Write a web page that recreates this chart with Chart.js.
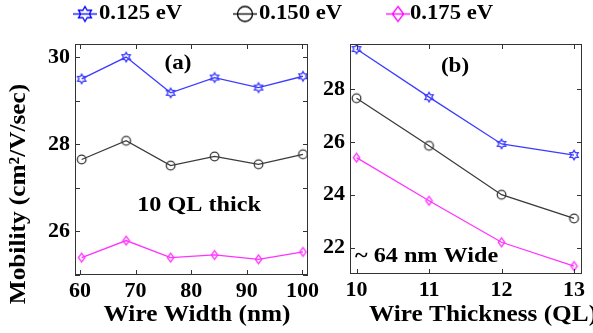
<!DOCTYPE html>
<html><head><meta charset="utf-8">
<script src="https://cdn.jsdelivr.net/npm/chart.js@4"></script>
<style>
html,body{margin:0;padding:0;background:#fff;}
#wrap{position:relative;width:593px;height:333px;overflow:hidden;background:#fff;}
canvas{position:absolute;left:0;top:0;}
</style></head><body>
<div id="wrap"><canvas id="ca" width="593" height="333"></canvas><canvas id="cb" width="593" height="333"></canvas></div>
<script>
// ---- data ----
const seriesLabels = ['0.125 eV', '0.150 eV', '0.175 eV'];
const widthNm = [60.3, 68.3, 76.3, 84.2, 92.1, 100.1];
const mobW125 = [29.50, 30.00, 29.18, 29.53, 29.30, 29.56];
const mobW150 = [27.65, 28.08, 27.51, 27.72, 27.54, 27.77];
const mobW175 = [25.40, 25.79, 25.40, 25.46, 25.36, 25.53];
const thickQL = [10, 11, 12, 13];
const mobT125 = [29.51, 27.69, 25.92, 25.50];
const mobT150 = [27.65, 25.85, 24.00, 23.10];
const mobT175 = [25.40, 23.77, 22.20, 21.30];
const xTicksA = [60, 70, 80, 90, 100];
const yTicksA = [25, 26, 27, 28, 29, 30];
const yLabelsA = [26, 28, 30];
const xTicksB = [10, 11, 12, 13];
const yTicksB = [22, 24, 26, 28];

// ---- styles ----
const FONT = "'Liberation Serif', 'Times New Roman', serif";
const STRETCH = 1.1;
const COLORS = ['#3c3cff', '#3a3a3a', '#ff33ff'];
const MARKERS = ['hex', 'circle', 'diamond'];

function drawMarker(g, style, cx, cy, r) {
  g.beginPath();
  if (style === 'hex') {
    const ri = r / Math.sqrt(3);
    for (let k = 0; k < 12; k++) {
      const a = -Math.PI / 2 + k * Math.PI / 6;
      const rr = (k % 2 === 0) ? r : ri;
      const px = cx + rr * Math.cos(a), py = cy + rr * Math.sin(a);
      k ? g.lineTo(px, py) : g.moveTo(px, py);
    }
    g.closePath();
  } else if (style === 'circle') {
    g.arc(cx, cy, r, 0, Math.PI * 2);
  } else {
    g.moveTo(cx, cy - r); g.lineTo(cx + r * 0.75, cy); g.lineTo(cx, cy + r); g.lineTo(cx - r * 0.75, cy); g.closePath();
  }
  g.stroke();
}
function markerCanvas(style, color, r, lineLen) {
  const h = Math.ceil(2 * r + 4);
  const w = lineLen || h;
  const c = document.createElement('canvas'); c.width = w; c.height = h;
  const g = c.getContext('2d');
  g.strokeStyle = color; g.lineWidth = 1.3;
  if (lineLen) { g.beginPath(); g.moveTo(0, h / 2); g.lineTo(w, h / 2); g.stroke(); }
  drawMarker(g, style, w / 2, h / 2, r);
  return c;
}
const pointImgs = MARKERS.map((m, i) => markerCanvas(m, COLORS[i], m === 'hex' ? 4.8 : 4.3));
const legendImgs = MARKERS.map((m, i) => markerCanvas(m, i === 0 ? '#0000ff' : (i === 1 ? '#000' : '#ff00ff'), 7.5, 24));

function ds(i, xs, ys) {
  return {
    label: seriesLabels[i],
    data: xs.map((x, k) => ({ x: x, y: ys[k] })),
    borderColor: COLORS[i], borderWidth: 1.3,
    pointStyle: pointImgs[i], pointRadius: 4, fill: false, tension: 0
  };
}

// frame + inward ticks
const framePlugin = {
  id: 'frame',
  afterDatasetsDraw(chart) {
    const { ctx, chartArea: a, scales } = chart;
    ctx.save();
    ctx.strokeStyle = '#333'; ctx.lineWidth = 1;
    ctx.strokeRect(a.left + 0.5, a.top + 0.5, a.right - a.left - 1, a.bottom - a.top - 1);
    const L = 5;
    ctx.beginPath();
    scales.x.ticks.forEach(t => {
      const px = Math.round(scales.x.getPixelForValue(t.value)) + 0.5;
      ctx.moveTo(px, a.bottom); ctx.lineTo(px, a.bottom - L);
      ctx.moveTo(px, a.top); ctx.lineTo(px, a.top + L);
    });
    scales.y.ticks.forEach(t => {
      const py = Math.round(scales.y.getPixelForValue(t.value)) + 0.5;
      ctx.moveTo(a.left, py); ctx.lineTo(a.left + L, py);
      ctx.moveTo(a.right, py); ctx.lineTo(a.right - L, py);
    });
    ctx.stroke();
    ctx.restore();
  }
};

function textPlugin(items) {
  return {
    id: 'texts',
    afterDraw(chart) {
      const ctx = chart.ctx;
      items.forEach(it => {
        ctx.save();
        ctx.font = 'bold ' + it.size + 'px ' + FONT;
        ctx.fillStyle = '#000';
        ctx.textAlign = it.align || 'center';
        ctx.textBaseline = 'middle';
        ctx.translate(it.x, it.y);
        if (it.rot) ctx.rotate(it.rot);
        ctx.scale(STRETCH, 1);
        ctx.fillText(it.text, 0, 0);
        ctx.restore();
      });
    }
  };
}

const legendPos = [{ mx: 85, tx: 99 }, { mx: 245, tx: 259 }, { mx: 398, tx: 410 }];
const legendPlugin = {
  id: 'customLegend',
  afterDraw(chart) {
    const ctx = chart.ctx;
    chart.data.datasets.forEach((d, i) => {
      const img = legendImgs[i];
      const p = legendPos[i];
      ctx.drawImage(img, p.mx - img.width / 2, 14 - img.height / 2);
      ctx.save();
      ctx.font = 'bold 21px ' + FONT;
      ctx.fillStyle = '#000'; ctx.textBaseline = 'middle'; ctx.textAlign = 'left';
      ctx.translate(p.tx, 14);
      ctx.scale(1.08, 1);
      ctx.fillText(d.label, 0, 0);
      ctx.restore();
    });
  }
};

function axisOpts(min, max, tickVals, fitFn, labelFilter, pad) {
  return {
    type: 'linear', min: min, max: max,
    afterBuildTicks: s => { s.ticks = tickVals.map(v => ({ value: v })); },
    afterFit: fitFn,
    grid: { display: false, drawTicks: false },
    border: { display: false },
    ticks: {
      color: '#000', padding: pad,
      font: { family: FONT, size: 22, weight: 'bold' },
      callback: v => (labelFilter ? (labelFilter.includes(v) ? String(v) : '') : String(v))
    }
  };
}

new Chart(document.getElementById('ca'), {
  type: 'line',
  data: { datasets: [ds(0, widthNm, mobW125), ds(1, widthNm, mobW150), ds(2, widthNm, mobW175)] },
  options: {
    responsive: false, animation: false, devicePixelRatio: 1,
    layout: { padding: { left: 0, top: 44, right: 285, bottom: 0 } },
    plugins: { legend: { display: false }, tooltip: { enabled: false } },
    scales: {
      x: axisOpts(59.1, 101, xTicksA, s => { s.height = 58; }, null, 3),
      y: axisOpts(25, 30.3, yTicksA, s => { s.width = 75; }, yLabelsA, 5)
    }
  },
  plugins: [framePlugin, legendPlugin, textPlugin([
    { text: 'Mobility (cm²/V/sec)', x: 19, y: 194, size: 23, rot: -Math.PI / 2 },
    { text: 'Wire Width (nm)', x: 197, y: 315, size: 23 },
    { text: '(a)', x: 178, y: 64, size: 21 },
    { text: '10 QL thick', x: 199, y: 205, size: 22 }
  ])]
});

new Chart(document.getElementById('cb'), {
  type: 'line',
  data: { datasets: [ds(0, thickQL, mobT125), ds(1, thickQL, mobT150), ds(2, thickQL, mobT175)] },
  options: {
    responsive: false, animation: false, devicePixelRatio: 1,
    layout: { padding: { left: 320, top: 44, right: 11, bottom: 0 } },
    plugins: { legend: { display: false }, tooltip: { enabled: false } },
    scales: {
      x: axisOpts(9.91, 13.11, xTicksB, s => { s.height = 59; }, null, 3),
      y: axisOpts(21, 29.7, yTicksB, s => { s.width = 30; }, null, 5)
    }
  },
  plugins: [framePlugin, textPlugin([
    { text: 'Wire Thickness (QL)', x: 483, y: 315, size: 23 },
    { text: '(b)', x: 455, y: 67, size: 21 },
    { text: '~ 64 nm Wide', x: 355, y: 256, size: 22, align: 'left' }
  ])]
});
</script>
</body></html>
